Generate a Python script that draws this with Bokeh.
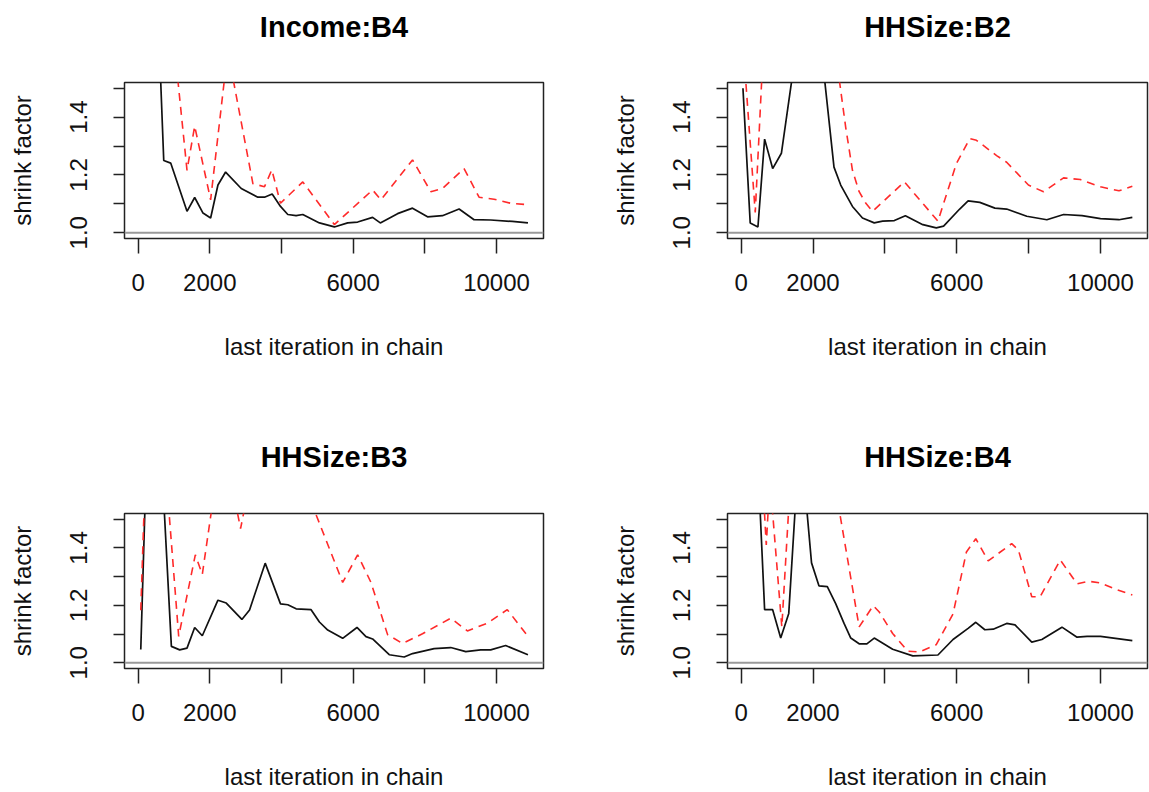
import math
from bokeh.plotting import figure
from bokeh.models import FixedTicker, Span, Range1d, PrintfTickFormatter, LinearAxis
from bokeh.layouts import column, row
from bokeh.embed import file_html
from bokeh.resources import INLINE

FONT = "Liberation Sans"

titles = ["Income:B4", "HHSize:B2", "HHSize:B3", "HHSize:B4"]
x_label = "last iteration in chain"
y_label = "shrink factor"
x_ticks_labeled = [0, 2000, 6000, 10000]
x_ticks_unlabeled = [4000, 8000]
y_ticks_labeled = [1.0, 1.2, 1.4]
y_ticks_unlabeled = [1.1, 1.3, 1.5]

# Panel 1: Income:B4
inc_b4_median_x = [50, 510, 715, 909, 1364, 1578, 1810, 2023, 2227, 2441, 2877, 3341, 3526, 3740, 3972,
                   4176, 4408, 4594, 5058, 5475, 5846, 6125, 6542, 6756, 7238, 7656, 8074, 8491, 8955,
                   9373, 9837, 10440, 10876]
inc_b4_median_y = [3.0, 1.91, 1.25, 1.241, 1.074, 1.122, 1.068, 1.051, 1.165, 1.210, 1.153, 1.123, 1.123,
                   1.134, 1.091, 1.063, 1.059, 1.063, 1.034, 1.020, 1.034, 1.037, 1.053, 1.034, 1.066,
                   1.085, 1.055, 1.059, 1.082, 1.045, 1.044, 1.039, 1.034]
inc_b4_upper_x = [50, 1050, 1364, 1578, 2023, 2500, 3202, 3526, 3730, 3972, 4594, 5475, 6542, 6774, 7656,
                  8166, 8491, 9094, 9512, 9930, 10394, 10876]
inc_b4_upper_y = [4.0, 1.6, 1.216, 1.369, 1.114, 1.63, 1.170, 1.159, 1.218, 1.102, 1.176, 1.028, 1.148,
                  1.114, 1.252, 1.142, 1.153, 1.222, 1.123, 1.116, 1.102, 1.097]

# Panel 2: HHSize:B2
hh_b2_median_x = [50, 252, 467, 653, 877, 1120, 1560, 1850, 2150, 2584, 2771, 3098, 3377, 3704, 3937, 4264,
                  4571, 5057, 5430, 5635, 6083, 6317, 6643, 7063, 7390, 7949, 8509, 8975, 9488, 10002,
                  10515, 10888]
hh_b2_median_y = [1.50, 1.034, 1.020, 1.324, 1.222, 1.275, 1.66, 1.90, 1.73, 1.227, 1.165, 1.091, 1.051,
                  1.034, 1.040, 1.042, 1.059, 1.028, 1.017, 1.023, 1.082, 1.110, 1.105, 1.085, 1.082,
                  1.057, 1.045, 1.063, 1.059, 1.049, 1.045, 1.053]
hh_b2_upper_x = [50, 392, 640, 1500, 2600, 2911, 3098, 3284, 3471, 3658, 4544, 5477, 5990, 6363, 6550,
                 7110, 7390, 7996, 8416, 8975, 9442, 10002, 10515, 10888]
hh_b2_upper_y = [1.66, 1.07, 1.70, 2.2, 1.65, 1.364, 1.216, 1.142, 1.102, 1.074, 1.176, 1.040, 1.239,
                 1.326, 1.320, 1.267, 1.244, 1.165, 1.142, 1.190, 1.184, 1.159, 1.145, 1.161]

# Panel 3: HHSize:B3
hh_b3_median_x = [74, 290, 500, 700, 928, 1160, 1364, 1578, 1791, 2227, 2459, 2895, 3109, 3545, 3972, 4176,
                  4408, 4826, 5058, 5290, 5707, 6106, 6357, 6542, 7006, 7424, 7656, 8259, 8723, 9141,
                  9558, 9837, 10254, 10876]
hh_b3_median_y = [1.046, 1.96, 1.9, 1.6, 1.057, 1.045, 1.051, 1.123, 1.094, 1.218, 1.208, 1.151, 1.184,
                  1.347, 1.205, 1.202, 1.188, 1.185, 1.142, 1.114, 1.085, 1.123, 1.091, 1.083, 1.028,
                  1.020, 1.032, 1.049, 1.053, 1.039, 1.045, 1.045, 1.060, 1.028]
hh_b3_upper_x = [74, 290, 500, 715, 1132, 1596, 1791, 2300, 2650, 2858, 3100, 3600, 4300, 4700, 5707, 6125,
                 6496, 6960, 7378, 7934, 8723, 9187, 9744, 10300, 10876]
hh_b3_upper_y = [1.183, 2.0, 1.9, 1.76, 1.092, 1.376, 1.308, 1.75, 1.6, 1.467, 1.62, 1.9, 1.8, 1.6, 1.280,
                 1.376, 1.280, 1.098, 1.067, 1.101, 1.155, 1.111, 1.138, 1.185, 1.092]

# Panel 4: HHSize:B4
hh_b4_median_x = [50, 430, 653, 877, 1101, 1325, 1540, 1745, 1959, 2165, 2398, 2631, 2864, 3051, 3284, 3499,
                  3704, 4217, 4777, 5477, 5897, 6317, 6531, 6783, 7016, 7390, 7623, 8089, 8369, 8929,
                  9349, 9629, 10002, 10888]
hh_b4_median_y = [2.5, 1.8, 1.185, 1.185, 1.086, 1.172, 1.61, 1.65, 1.348, 1.268, 1.265, 1.206, 1.137,
                  1.086, 1.066, 1.066, 1.086, 1.047, 1.024, 1.027, 1.081, 1.120, 1.141, 1.115, 1.117,
                  1.137, 1.132, 1.072, 1.081, 1.124, 1.089, 1.092, 1.092, 1.077]
hh_b4_upper_x = [50, 483, 699, 800, 1132, 1400, 1900, 2500, 3284, 3676, 3844, 4217, 4637, 4964, 5430, 5897,
                 6270, 6531, 6876, 7530, 7716, 8089, 8322, 8882, 9349, 9675, 10002, 10422, 10888]
hh_b4_upper_y = [2.2, 1.9, 1.41, 1.64, 1.125, 1.7, 2.0, 1.70, 1.125, 1.199, 1.177, 1.102, 1.040, 1.038,
                 1.063, 1.170, 1.386, 1.432, 1.355, 1.415, 1.393, 1.230, 1.230, 1.358, 1.275, 1.284,
                 1.278, 1.256, 1.236]

panels = [
    (titles[0], inc_b4_median_x, inc_b4_median_y, inc_b4_upper_x, inc_b4_upper_y),
    (titles[1], hh_b2_median_x, hh_b2_median_y, hh_b2_upper_x, hh_b2_upper_y),
    (titles[2], hh_b3_median_x, hh_b3_median_y, hh_b3_upper_x, hh_b3_upper_y),
    (titles[3], hh_b4_median_x, hh_b4_median_y, hh_b4_upper_x, hh_b4_upper_y),
]

# layout geometry: (width, height, left, right, top, bottom, title standoff)
geom = [
    (574, 396, 124, 31, 82, 158, 40),
    (575, 396, 153, 2, 82, 158, 40),
    (574, 396, 124, 31, 117, 124, 41),
    (575, 396, 153, 2, 117, 124, 41),
]


def make_panel(title, mx, my, ux, uy, g):
    w, h, bl, br, bt, bb, tso = g
    p = figure(width=w, height=h, output_backend="svg", toolbar_location=None,
               x_range=Range1d(-380, 11310), y_range=Range1d(0.98, 1.52),
               min_border_left=bl, min_border_right=br, min_border_top=bt, min_border_bottom=bb)
    p.grid.visible = False
    p.outline_line_color = "#222222"
    p.outline_line_width = 1.5
    p.background_fill_color = "white"
    p.border_fill_color = "white"

    p.xaxis.ticker = FixedTicker(ticks=x_ticks_labeled, minor_ticks=x_ticks_unlabeled)
    p.xaxis.formatter = PrintfTickFormatter(format="%d")
    p.yaxis.ticker = FixedTicker(ticks=y_ticks_labeled, minor_ticks=y_ticks_unlabeled)
    p.yaxis.formatter = PrintfTickFormatter(format="%.1f")
    p.yaxis.major_label_orientation = "vertical"

    for ax, out in ((p.xaxis, 15), (p.yaxis, 11)):
        ax.axis_line_color = None
        ax.major_tick_out = out
        ax.major_tick_in = 0
        ax.minor_tick_out = out
        ax.minor_tick_in = 0
        ax.major_tick_line_color = "#222222"
        ax.minor_tick_line_color = "#222222"
        ax.major_tick_line_width = 1.5
        ax.minor_tick_line_width = 1.5
        ax.major_label_text_font = FONT
        ax.major_label_text_font_size = "24px"
        ax.major_label_text_color = "#111111"
        ax.axis_label_text_font = FONT
        ax.axis_label_text_font_size = "24px"
        ax.axis_label_text_font_style = "normal"
        ax.axis_label_text_color = "#111111"
    p.xaxis.axis_label = x_label
    p.yaxis.axis_label = y_label
    p.xaxis.major_label_standoff = 20
    p.xaxis.axis_label_standoff = 39
    p.yaxis.major_label_standoff = 26
    p.yaxis.axis_label_standoff = 32

    # panel title drawn as the label of a tick-less axis above the frame
    top_axis = LinearAxis(ticker=FixedTicker(ticks=[]), axis_label=title,
                          axis_line_color=None, major_tick_out=0, major_tick_in=0,
                          minor_tick_out=0, minor_tick_in=0, major_label_standoff=0,
                          axis_label_standoff=tso, axis_label_text_font=FONT,
                          axis_label_text_font_size="29px", axis_label_text_font_style="bold",
                          axis_label_text_color="#000000")
    p.add_layout(top_axis, "above")

    p.add_layout(Span(location=1.0, dimension="width", line_color="#9a9a9a", line_width=2))
    p.line(mx, my, line_color="#111111", line_width=1.7)
    p.line(ux, uy, line_color="#ff2a2a", line_width=1.6, line_dash="8 6")
    return p


figs = [make_panel(t, mx, my, ux, uy, g) for (t, mx, my, ux, uy), g in zip(panels, geom)]
layout = column(row(figs[0], figs[1], spacing=0), row(figs[2], figs[3], spacing=0), spacing=0)

open("out.html", "w").write(file_html(layout, INLINE))
